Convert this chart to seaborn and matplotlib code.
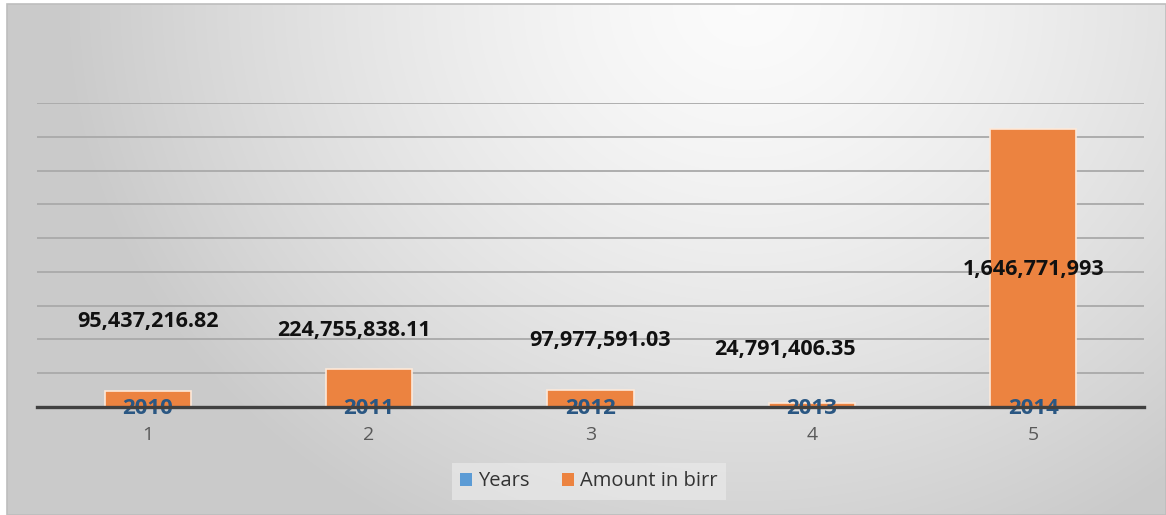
import numpy as np
import pandas as pd
import matplotlib
matplotlib.use("Agg")
import matplotlib.pyplot as plt
from matplotlib.patches import Rectangle
import seaborn as sns

# ---- data ----
categories = ["1", "2", "3", "4", "5"]
years = [2010, 2011, 2012, 2013, 2014]
amounts = [95437216.82, 224755838.11, 97977591.03, 24791406.35, 1646771993]
amount_labels = ["95,437,216.82", "224,755,838.11", "97,977,591.03",
                 "24,791,406.35", "1,646,771,993"]
series_names = ["Years", "Amount in birr"]

# label offsets (points) relative to bar tops — layout only
label_offsets = [(0, 49.7), (-10.8, 28.1), (7.2, 36.0), (-19.4, 38.2), (0, -101.5)]

plt.rcParams['font.family'] = ['Open Sans', 'DejaVu Sans']

df = pd.DataFrame({
    "cat": categories * 2,
    "series": [series_names[0]] * 5 + [series_names[1]] * 5,
    "value": years + amounts,
})

W, H = 1166, 515
fig = plt.figure(figsize=(W / 100, H / 100), dpi=100)
fig.patch.set_facecolor("white")

# background gradient panel
bx0, by1 = 7, 4
bg = fig.add_axes([bx0 / W, 0, 1 - bx0 / W, (H - by1) / H])
yy, xx = np.mgrid[0:H - by1, 0:W - bx0]
cx, cy = 0.64 * W, 0
d = np.sqrt(((xx + bx0 - cx) / 680.0) ** 2 + ((yy - cy) / 600.0) ** 2)
c = 0.985 - 0.19 * np.clip(d, 0, 1) ** 1.4
img = np.dstack([c, c, c])
bg.imshow(img, aspect="auto", extent=[0, 1, 0, 1], origin="upper")
bg.set_axis_off()
fig.add_artist(Rectangle((bx0 / W, 0), 1 - bx0 / W, (H - by1) / H,
                         transform=fig.transFigure, fill=False,
                         edgecolor="#bdbdbd", linewidth=1.2))

# main axes
left, right = 37 / W, 1144 / W
bottom, top = (H - 407) / H, (H - 103) / H
ax = fig.add_axes([left, bottom, right - left, top - bottom])
ax.set_facecolor("none")

sns.barplot(data=df, x="cat", y="value", hue="series", dodge=False,
            palette=["#5B9BD5", "#EC8340"], width=0.39, ax=ax,
            order=categories, hue_order=series_names,
            edgecolor="#fde9d9", linewidth=1.2, saturation=1)

ax.set_ylim(0, 1.8e9)
ax.set_xlim(-0.5, 4.5)
ax.set_yticks(np.arange(0, 1.8e9 + 1, 2e8))
ax.yaxis.grid(True, color="#a9a9a9", linewidth=1.3)
ax.set_axisbelow(True)
ax.tick_params(axis="y", length=0, labelleft=False)
ax.tick_params(axis="x", length=0, pad=14, labelsize=14, labelcolor="#595959")
for s in ax.spines.values():
    s.set_visible(False)
ax.set_xlabel("")
ax.set_ylabel("")
ax.axhline(0, color="#404040", linewidth=2.4, zorder=5, clip_on=False)

# amount labels
amount_bars = ax.containers[1]
for patch, lab, (dx, dy) in zip(amount_bars, amount_labels, label_offsets):
    xc = patch.get_x() + patch.get_width() / 2
    ax.annotate(lab, xy=(xc, patch.get_height()), xytext=(dx, dy),
                textcoords="offset points", ha="center", va="center",
                fontsize=15.5, fontweight="bold", color="#111111", zorder=6)

# years labels
year_bars = ax.containers[0]
for patch, yv in zip(year_bars, years):
    xc = patch.get_x() + patch.get_width() / 2
    ax.annotate(str(yv), xy=(xc, 0), xytext=(0, -1.2),
                textcoords="offset points", ha="center", va="center",
                fontsize=16, fontweight="bold", color="#2a5783", zorder=4)

handles, labels = ax.get_legend_handles_labels()
if ax.legend_:
    ax.legend_.remove()
leg = fig.legend(handles, labels, loc="center", bbox_to_anchor=(589 / W, 1 - 481.5 / H),
                 ncol=2, frameon=True, facecolor="#e9e9e9", edgecolor="none",
                 fontsize=14.5, handlelength=0.6, handleheight=0.6,
                 handletextpad=0.3, columnspacing=1.6, fancybox=False,
                 labelcolor="#333333")
leg.get_frame().set_alpha(0.7)
for h in leg.legend_handles:
    h.set_edgecolor("none")

fig.savefig("out.png", dpi=100)
